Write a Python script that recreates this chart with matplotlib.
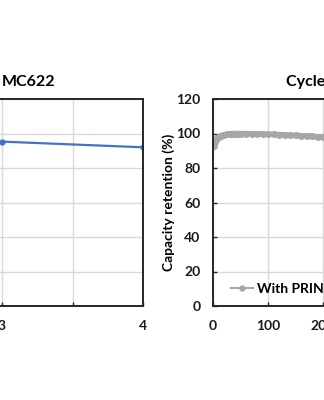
# Two panels cropped from a wider figure: rate test (left) and cycling (right)
import matplotlib.pyplot as plt
from matplotlib.ticker import MultipleLocator, FuncFormatter

plt.rcParams['font.family'] = ['Lato', 'DejaVu Sans']
plt.rcParams['font.weight'] = 'bold'

# ---------------------------------
# Data
# ---------------------------------
rate_x = [3, 4]
rate_y = [95.3, 92.0]

cycles = [1, 3, 5, 8, 10, 15, 20, 25, 30, 35, 40, 45, 50, 60, 70, 80, 90,
          100, 110, 120, 130, 140, 150, 160, 170, 180, 190, 200, 210, 220,
          230, 240, 250]
retention = [93.0, 95.2, 96.4, 97.5, 98.0, 98.8, 99.3, 99.6, 99.8, 99.9,
             100.0, 100.0, 100.0, 99.9, 99.9, 99.8, 99.7, 99.6, 99.5, 99.4,
             99.2, 99.0, 98.9, 98.7, 98.5, 98.3, 98.1, 97.9, 97.7, 97.5,
             97.3, 97.1, 96.9]

y_ticks = [0, 20, 40, 60, 80, 100, 120]
x_ticks_cycle = [0, 100, 200, 300, 400, 500]

W, H = 324, 400
fig = plt.figure(figsize=(W / 100, H / 100), dpi=100)

def px_axes(left, right, top, bottom):
    return fig.add_axes([left / W, 1 - bottom / H, (right - left) / W, (bottom - top) / H])

grid_c = '#d9d9d9'
spine_c = '#262626'

def style(ax):
    ax.grid(True, color=grid_c, linewidth=1)
    ax.set_axisbelow(True)
    for s in ax.spines.values():
        s.set_color(spine_c)
        s.set_linewidth(1.4)
    ax.tick_params(direction='in', length=3, width=1, color=spine_c,
                   labelsize=10, labelcolor='#1a1a1a')
    ax.tick_params(axis='x', pad=10)
    ax.tick_params(axis='y', pad=9)

# ---------------------------------
# Left panel (mostly off canvas)
# ---------------------------------
ax1 = px_axes(2 - 3 * 141, 143, 99, 306)
ax1.plot(rate_x, rate_y, color='#4472c4', linewidth=1.6, marker='o', markersize=3.5)
ax1.set_xlim(0, 4)
ax1.set_ylim(0, 120)
ax1.xaxis.set_major_locator(MultipleLocator(0.5))
# only the labels that fall on the canvas
ax1.xaxis.set_major_formatter(FuncFormatter(lambda v, p: f'{v:.0f}' if v in (3, 4) else ''))
ax1.set_yticks(y_ticks)
style(ax1)
ax1.tick_params(axis='y', labelleft=False)
fig.text(2 / W, 1 - 82 / H, 'MC622', fontsize=11.5, fontweight='bold', va='center', ha='left')

# ---------------------------------
# Right panel
# ---------------------------------
ax2 = px_axes(213, 213 + 275, 99, 306)
ax2.plot(cycles, retention, color='#a6a6a6', linewidth=4, marker='o', markersize=4,
         label='With PRINT')
ax2.set_xlim(0, 500)
ax2.set_ylim(0, 120)
ax2.set_xticks(x_ticks_cycle)
ax2.set_xticklabels([str(t) if t <= 200 else '' for t in x_ticks_cycle])
ax2.set_yticks(y_ticks)
style(ax2)
ax2.set_ylabel('Capacity retention (%)', fontsize=10, fontweight='bold', labelpad=1)
leg = ax2.legend(loc='center left', bbox_to_anchor=(0.065, 0.082), frameon=False,
                 fontsize=10, handlelength=1.6, handletextpad=0.3, borderpad=0,
                 borderaxespad=0)
for h in leg.legend_handles:
    h.set_linewidth(1.5)
    h.set_markersize(3.5)
fig.text(286 / W, 1 - 82 / H, 'Cycle performance', fontsize=11.5, fontweight='bold',
         va='center', ha='left')

fig.savefig('out.png', dpi=100)
